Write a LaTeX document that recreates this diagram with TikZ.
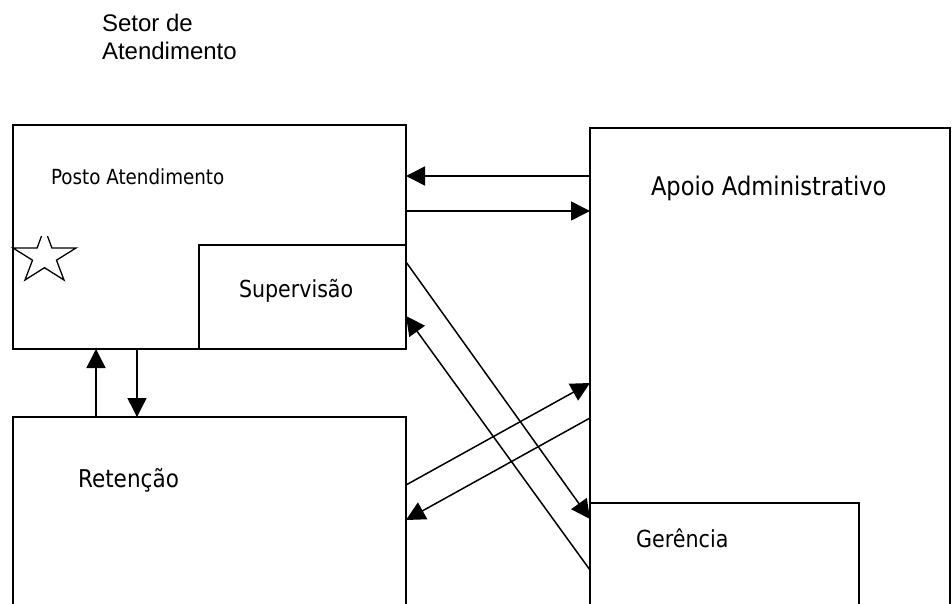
\documentclass[tikz,border=0pt]{standalone}
\usepackage{fontspec}
\setmainfont{DejaVu Sans}
\newfontfamily\tah[FakeStretch=0.88]{DejaVu Sans}
\newfontfamily\ari{Liberation Sans}
\usetikzlibrary{arrows.meta}
\begin{document}
\begin{tikzpicture}[x=1pt,y=-1pt,
  box/.style={draw=black,line width=1.8pt,fill=none,inner sep=0pt,outer sep=0pt,anchor=north west},
  thinbox/.style={box,line width=1.4pt},
  lbl/.style={inner sep=0pt,outer sep=0pt,anchor=base west},
  conn/.style={line width=1.5pt,-{Triangle[length=19pt,width=19pt]}}]
\useasboundingbox (0,0) rectangle (952,604);
\clip (0,0) rectangle (952,604);
% boxes
\node[box,minimum width=393pt,minimum height=224pt] (posto) at (13,125) {};
\node[thinbox,minimum width=207pt,minimum height=104pt] (super) at (199,245) {};
\node[box,minimum width=393pt,minimum height=220pt] (reten) at (13,417) {};
\node[box,minimum width=360pt,minimum height=520pt] (apoio) at (590,128) {};
\node[thinbox,fill=white,minimum width=269pt,minimum height=140pt] (geren) at (590,503) {};
% labels
\node[lbl] (t1) at (102,32) {\ari\fontsize{24}{28}\selectfont Setor de};
\node[lbl] (t2) at (102,60) {\ari\fontsize{24}{28}\selectfont Atendimento};
\node[lbl] (tposto) at (51,185) {\tah\fontsize{20.8}{24}\selectfont Posto Atendimento};
\node[lbl] (tsuper) at (239,297) {\tah\fontsize{23.4}{26}\selectfont Supervisão};
\node[lbl] (tapoio) at (651,196) {\tah\fontsize{25.7}{28}\selectfont Apoio Administrativo};
\node[lbl] (treten) at (78,487) {\tah\fontsize{24.5}{28}\selectfont Retenção};
\node[lbl] (tgeren) at (636,547) {\tah\fontsize{23.5}{26}\selectfont Gerência};
% star
\begin{scope}
\clip (0,236) rectangle (100,300);
\draw[line width=1.3pt,line join=miter]
  (44.5,228) -- (51.9,248) -- (76,248) -- (56.5,260.2) -- (64,280) -- (44.5,267.7)
  -- (25,280) -- (32.5,260.2) -- (13,248) -- (37.1,248) -- cycle;
\end{scope}
% connector coordinates
\coordinate (a1) at (590,176);
\coordinate (a2) at (406,211);
\coordinate (v1) at (96,417);
\coordinate (v2) at (137,349);
\coordinate (d1) at (406,262);
\coordinate (d1e) at (590,519);
\coordinate (d2) at (590,570);
\coordinate (d2e) at (406,316);
\coordinate (d3) at (406,485);
\coordinate (d3e) at (590,383);
\coordinate (d4) at (590,418);
\coordinate (d4e) at (406,520);
% connectors
\draw[conn] (apoio.west |- a1) -- (posto.east |- a1);
\draw[conn] (posto.east |- a2) -- (apoio.west |- a2);
\draw[conn] (reten.north -| v1) -- (posto.south -| v1);
\draw[conn] (posto.south -| v2) -- (reten.north -| v2);
\draw[conn] (super.east |- d1) -- (geren.west |- d1e);
\draw[conn] (geren.west |- d2) -- (super.east |- d2e);
\draw[conn] (reten.east |- d3) -- (apoio.west |- d3e);
\draw[conn] (apoio.west |- d4) -- (reten.east |- d4e);
\end{tikzpicture}
\end{document}
